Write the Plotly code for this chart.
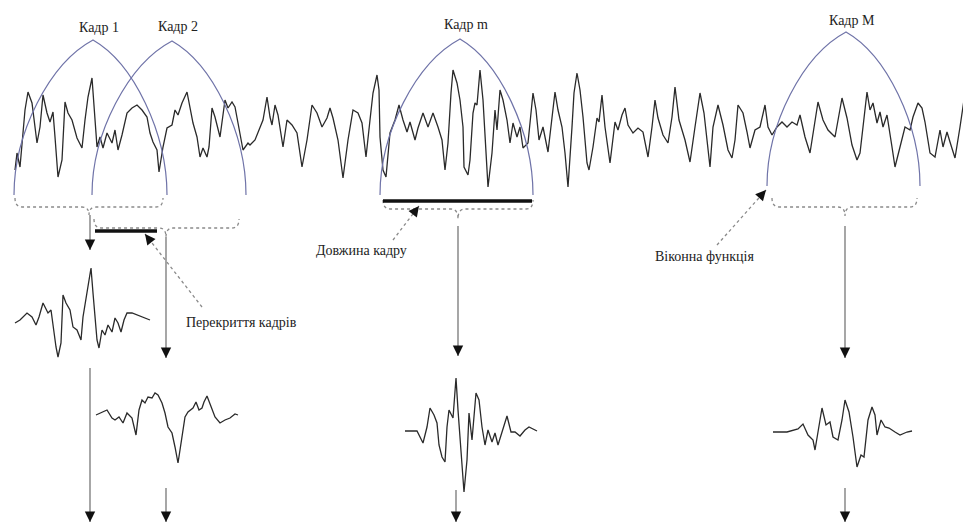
import plotly.graph_objects as go

# ---------------- data (diagram units: x = horizontal position, y = vertical position, down is larger) -------------
sig_x = [15,17,20,22,25,28,32,37,40,43,47,50,53,55,58,62,65,68,72,77,82,85,88,92,94,97,100,103,107,112,115,118,122,127,132,137,142,147,150,153,157,159,163,167,172,175,178,182,187,190,193,197,200,203,207,209,212,215,220,225,228,232,235,238,243,248,250,255,260,263,267,270,272,275,278,283,287,292,297,302,307,312,317,322,327,330,333,338,343,348,353,358,362,366,370,373,377,379,380,383,386,390,395,399,403,407,410,415,418,423,428,433,438,442,445,448,451,453,457,460,463,464,468,470,473,475,477,480,483,485,488,492,495,497,500,503,507,510,513,517,520,523,528,533,536,539,543,548,552,555,558,562,565,568,572,574,577,580,583,587,589,593,597,599,602,605,610,615,618,622,625,628,633,638,643,648,652,655,658,663,668,672,675,679,685,690,695,700,704,707,710,713,718,723,728,732,735,738,743,747,750,755,760,765,768,772,777,782,787,792,797,800,805,810,814,818,823,828,835,842,847,852,857,860,863,867,870,873,877,880,883,887,892,895,900,905,910,913,918,922,925,930,935,940,943,947,950,955,960,965,968,970]
sig_y = [170,153,167,143,110,92,103,143,127,95,113,122,112,137,177,160,102,113,120,138,148,120,97,78,103,147,137,148,133,143,130,150,135,113,108,105,110,117,133,142,150,172,147,128,125,110,115,103,92,107,123,137,157,148,157,147,108,117,137,100,108,102,107,123,150,143,145,140,127,120,97,117,125,105,115,147,120,125,133,167,140,105,113,127,118,108,118,140,178,140,110,113,123,157,120,93,75,90,137,170,177,133,120,105,120,132,122,140,128,113,127,113,127,140,170,143,93,70,83,100,127,167,175,160,113,103,105,70,100,135,187,153,110,130,90,100,120,143,123,137,127,148,143,93,110,140,127,152,120,92,110,127,153,187,127,93,73,90,117,163,170,147,118,122,95,127,163,122,130,115,108,125,133,128,132,157,127,100,118,135,143,117,87,120,140,162,127,93,113,140,167,127,105,125,150,158,140,105,113,132,148,130,127,105,127,135,127,122,127,122,125,115,137,153,127,102,120,130,137,98,118,145,160,153,127,92,110,103,123,112,127,115,147,167,147,127,130,117,103,108,122,153,157,130,147,132,142,158,127,93,83,97]

f1_x = [15,20,27,32,36,39,43,46,48,51,53,56,58,61,63,66,70,73,77,81,83,86,89,91,93,96,97,99,102,105,108,112,115,118,121,124,127,132,137,143,150]
f1_y = [323,320,313,317,325,317,303,310,313,310,327,347,357,343,295,303,310,327,330,340,317,300,283,268,293,327,340,348,330,335,325,332,318,323,332,320,313,313,315,317,320]

f2_x = [96,102,107,112,115,119,123,127,132,136,139,142,145,148,152,155,158,162,165,168,172,175,178,180,183,185,188,193,196,199,202,204,207,211,215,220,225,230,235,238]
f2_y = [415,412,410,418,420,417,423,413,418,435,410,400,403,397,398,393,395,403,413,427,433,447,463,450,430,417,412,408,402,410,408,402,396,407,417,423,420,418,414,415]

fm_x = [405,417,423,427,430,434,437,439,442,445,447,449,453,456,458,461,464,467,469,472,476,479,482,485,488,492,495,498,502,507,511,515,520,525,529,537]
fm_y = [431,431,443,427,408,415,423,445,457,462,427,410,418,378,410,450,492,460,413,440,393,400,427,445,430,442,433,445,433,416,432,432,436,430,427,431]

fM_x = [773,787,798,803,808,813,815,818,822,826,830,833,838,842,845,849,853,857,861,864,868,872,875,877,881,885,889,895,900,907,912]
fM_y = [432,432,429,424,435,440,450,430,408,425,422,437,440,420,400,412,437,467,455,457,420,407,415,435,420,427,428,432,435,432,431]

frame_labels = ["Кадр 1", "Кадр 2", "Кадр m", "Кадр M"]
win_start = [14, 92, 380, 767]
win_end = [167, 246, 533, 920]
win_peak_x = [93, 172, 460, 846]
win_peak_y = [40, 41, 39, 32]
win_base_y = [195, 195, 195, 186]
label_y = [27, 26, 24, 20]

brace_x0 = [15, 94, 383, 772]
brace_x1 = [163, 239, 533, 917]
brace_mid = [89, 166, 458, 845]
brace_line_y = [207, 228, 209, 207]
brace_tip_y = [215, 237, 219, 216]

# ---------------- figure ----------------
# The page body has an 8px margin, so the figure is sized and ranged to map 1:1 onto the window.
PAD = 8
W, H = 971, 523
fig = go.Figure()
line_style = dict(color="#2a2a2a", width=1.3)
for xs, ys in [(sig_x, sig_y), (f1_x, f1_y), (f2_x, f2_y), (fm_x, fm_y), (fM_x, fM_y)]:
    fig.add_trace(go.Scatter(x=xs, y=ys, mode="lines", line=line_style,
                             hoverinfo="skip", showlegend=False, cliponaxis=False))

serif = "Liberation Serif"
shapes = []
annotations = []
win_color = "#6f73a8"
for i in range(4):
    x0, x1, xp, yp, yb = win_start[i], win_end[i], win_peak_x[i], win_peak_y[i], win_base_y[i]
    h = yb - yp
    wl, wr = xp - x0, x1 - xp
    path = (f"M {x0},{yb} C {x0},{yb-0.4*h} {x0+0.45*wl},{yb-0.85*h} {xp},{yp} "
            f"C {x1-0.45*wr},{yb-0.85*h} {x1},{yb-0.4*h} {x1},{yb}")
    shapes.append(dict(type="path", path=path, xref="x", yref="y",
                       line=dict(color=win_color, width=1.2)))
    annotations.append(dict(x=xp + 6, y=label_y[i], text=frame_labels[i], showarrow=False,
                            font=dict(family=serif, size=14, color="#222"),
                            xref="x", yref="y"))
    # dotted curly brace
    a, b, m = brace_x0[i], brace_x1[i], brace_mid[i]
    yl, yt = brace_line_y[i], brace_tip_y[i]
    ye = yl - 9
    bp = (f"M {a},{ye} Q {a},{yl} {a+7},{yl} L {m-7},{yl} Q {m},{yl} {m},{yt} "
          f"Q {m},{yl} {m+7},{yl} L {b-7},{yl} Q {b},{yl} {b},{ye}")
    shapes.append(dict(type="path", path=bp, xref="x", yref="y",
                       line=dict(color="#8a8a8a", width=1.3, dash="dot")))

# thick bars: overlap and frame length
shapes.append(dict(type="line", x0=95, x1=157, y0=231, y1=231, xref="x", yref="y",
                   line=dict(color="#111", width=3.5)))
shapes.append(dict(type="line", x0=383, x1=532, y0=201, y1=201, xref="x", yref="y",
                   line=dict(color="#111", width=3.5)))

def arrow(x0, y0, x1, y1, dotted=False):
    shapes.append(dict(type="line", x0=x0, y0=y0, x1=x1, y1=y1, xref="x", yref="y",
                       line=dict(color="#8a8a8a" if dotted else "#777", width=1.3,
                                 dash="dot" if dotted else "solid")))
    dx, dy = x1 - x0, y1 - y0
    L = (dx * dx + dy * dy) ** 0.5
    annotations.append(dict(x=x1, y=y1, ax=x1 - dx / L * 9, ay=y1 - dy / L * 9,
                            xref="x", yref="y", axref="x", ayref="y", text="",
                            showarrow=True, arrowhead=2, arrowsize=1.3, arrowwidth=1.6,
                            arrowcolor="#111"))

arrow(90, 215, 90, 250)
arrow(166, 237, 166, 358)
arrow(458, 226, 458, 356)
arrow(845, 226, 845, 358)
arrow(90, 368, 90, 522)
arrow(166, 488, 166, 522)
arrow(456, 490, 456, 522)
arrow(845, 488, 845, 522)
arrow(202, 307, 145, 234, dotted=True)
arrow(393, 240, 419, 206, dotted=True)
arrow(717, 245, 766, 190, dotted=True)

txt_font = dict(family=serif, size=14, color="#222")
annotations.append(dict(x=241, y=322, text="Перекриття кадрів", showarrow=False, font=txt_font, xref="x", yref="y"))
annotations.append(dict(x=361, y=250, text="Довжина кадру", showarrow=False, font=txt_font, xref="x", yref="y"))
annotations.append(dict(x=704, y=256, text="Віконна функція", showarrow=False, font=txt_font, xref="x", yref="y"))

fig.update_layout(
    width=W - PAD, height=H - PAD, margin=dict(l=0, r=0, t=0, b=0),
    paper_bgcolor="white", plot_bgcolor="white",
    font=dict(family=serif),
    xaxis=dict(range=[PAD, W], visible=False, fixedrange=True),
    yaxis=dict(range=[H, PAD], visible=False, fixedrange=True),
    shapes=shapes, annotations=annotations, showlegend=False,
)
fig.write_html("out.html")
